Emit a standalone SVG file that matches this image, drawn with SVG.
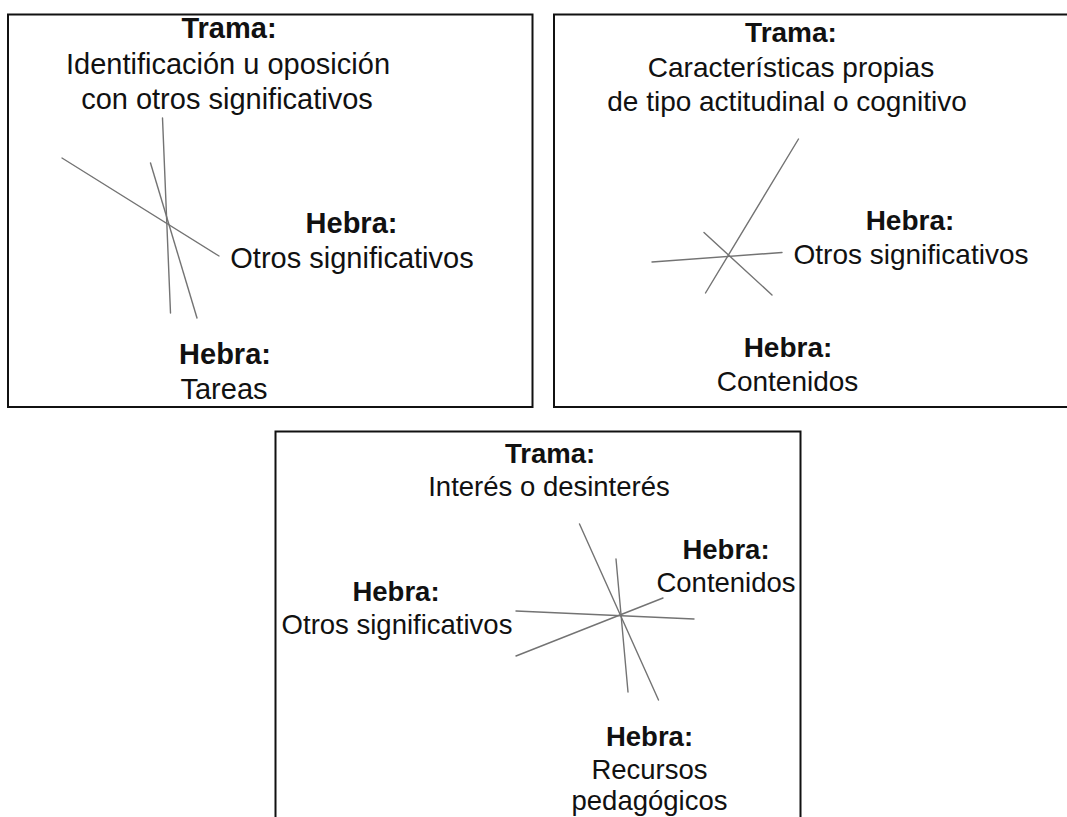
<svg xmlns="http://www.w3.org/2000/svg" width="1067" height="817" viewBox="0 0 1067 817">
  <style>
    .frame { fill: #ffffff; stroke: #111111; stroke-width: 2; }
    .thread { stroke: #737373; stroke-width: 1.4; fill: none; stroke-linecap: round; }
    text { font-family: "Liberation Sans", Arial, sans-serif; fill: #111111; text-anchor: middle; }
    .b { font-weight: bold; }
    .s29 { font-size: 29px; }
    .s28 { font-size: 28px; }
    .s27 { font-size: 27.5px; }
  </style>
  <rect x="0" y="0" width="1067" height="817" fill="#ffffff"/>

  <!-- Panel 1 -->
  <g id="panel-1">
    <rect class="frame" x="8" y="14.5" width="524.5" height="392.5"/>
    <g class="s29">
      <text class="b" x="229" y="38">Trama:</text>
      <text x="228" y="74">Identificación u oposición</text>
      <text x="227" y="109">con otros significativos</text>
      <text class="b" x="351.5" y="233">Hebra:</text>
      <text x="352" y="268">Otros significativos</text>
      <text class="b" x="225" y="364">Hebra:</text>
      <text x="224" y="399">Tareas</text>
    </g>
  </g>

  <!-- Panel 2 -->
  <g id="panel-2">
    <rect class="frame" x="554" y="14.5" width="530" height="392.5"/>
    <g class="s28">
      <text class="b" x="791" y="42">Trama:</text>
      <text x="791" y="77">Características propias</text>
      <text x="787" y="111">de tipo actitudinal o cognitivo</text>
      <text class="b" x="910" y="230">Hebra:</text>
      <text x="911" y="264">Otros significativos</text>
      <text class="b" x="788" y="357">Hebra:</text>
      <text x="787.5" y="391">Contenidos</text>
    </g>
  </g>

  <!-- Panel 3 -->
  <g id="panel-3">
    <rect class="frame" x="275.5" y="431.5" width="525" height="400"/>
    <g class="s27">
      <text class="b" x="550" y="463">Trama:</text>
      <text x="549" y="496">Interés o desinterés</text>
      <text class="b" x="726" y="559">Hebra:</text>
      <text x="726" y="592">Contenidos</text>
      <text class="b" x="396" y="601">Hebra:</text>
      <text x="397" y="634">Otros significativos</text>
      <text class="b" x="649.5" y="746">Hebra:</text>
      <text x="649.5" y="779">Recursos</text>
      <text x="649.5" y="810">pedagógicos</text>
    </g>
  </g>

  <!-- Crossing threads -->
  <g id="threads">
    <line class="thread" x1="62" y1="158" x2="219" y2="256"/>
    <line class="thread" x1="162.5" y1="118" x2="170.5" y2="313"/>
    <line class="thread" x1="150.5" y1="163" x2="197" y2="318"/>

    <line class="thread" x1="798.5" y1="139" x2="705.5" y2="293"/>
    <line class="thread" x1="652" y1="262" x2="782" y2="252.5"/>
    <line class="thread" x1="704" y1="232.5" x2="772" y2="295"/>

    <line class="thread" x1="579.5" y1="524" x2="658.5" y2="700"/>
    <line class="thread" x1="616" y1="559" x2="628" y2="692"/>
    <line class="thread" x1="516" y1="611" x2="694" y2="619"/>
    <line class="thread" x1="516" y1="656" x2="663" y2="598"/>
  </g>
</svg>
